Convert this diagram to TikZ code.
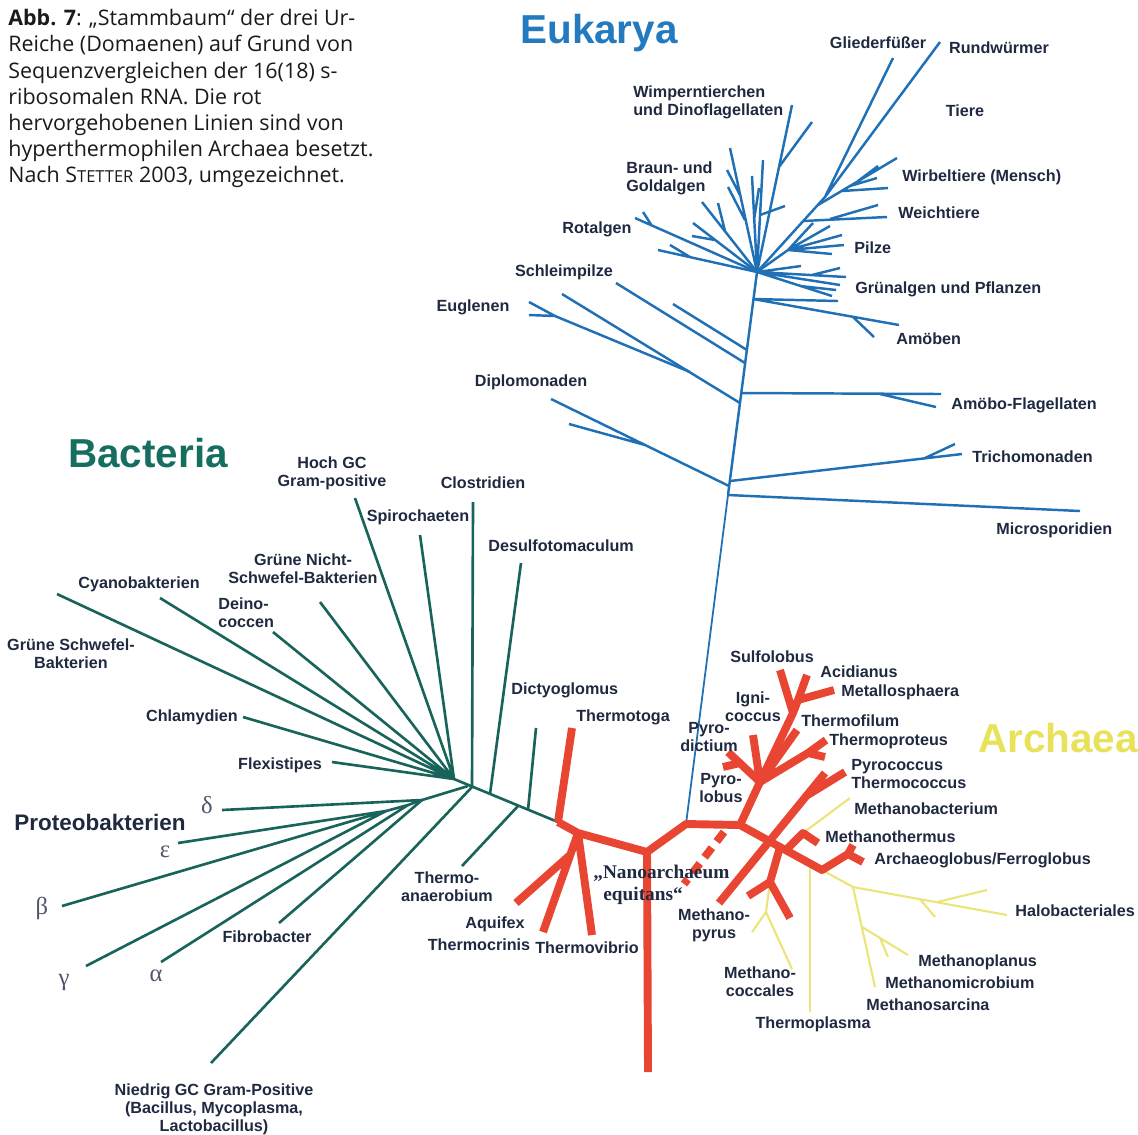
\documentclass[tikz,border=0pt]{standalone}
\usepackage{fontspec}
\setmainfont{Liberation Sans}
\newfontfamily\capfont{Open Sans}
\newfontfamily\serifgreek{Liberation Serif}
\usepackage{tikz}

\definecolor{eukblue}{HTML}{1F70B4}
\definecolor{euktitle}{HTML}{237ABE}
\definecolor{bacgreen}{HTML}{19645A}
\definecolor{bactitle}{HTML}{166E60}
\definecolor{hotred}{HTML}{E84632}
\definecolor{arcyellow}{HTML}{EBE478}
\definecolor{arctitle}{HTML}{E8E25A}
\definecolor{labelnavy}{HTML}{1F2940}
\definecolor{greekgray}{HTML}{505569}
\definecolor{captext}{HTML}{1A1A1A}

\newcommand{\taxfont}{\bfseries\fontsize{9.2}{10.3}\selectfont}
\newcommand{\domfont}{\bfseries\fontsize{23}{23}\selectfont}

\begin{document}
\begin{tikzpicture}[
    x=0.02cm, y=-0.02cm,
    line join=round,
    euk/.style={draw=eukblue, line width=1.4pt},
    eukthin/.style={draw=eukblue, line width=1pt},
    bac/.style={draw=bacgreen, line width=1.5pt},
    hot/.style={draw=hotred, line width=4.5pt},
    hotdash/.style={draw=hotred, line width=4.5pt, dash pattern=on 6.8pt off 4.5pt},
    arc/.style={draw=arcyellow, line width=1.2pt},
    taxon/.style={
        font=\taxfont,
        text=labelnavy,
        inner sep=0pt,
        align=center
    },
    domtitle/.style={
        font=\domfont,
        inner sep=0pt,
        anchor=base west
    },
    greek/.style={
        font=\serifgreek\fontsize{14}{14}\selectfont,
        text=greekgray,
        inner sep=0pt
    },
    nanolabel/.style={
        font=\serifgreek\bfseries\fontsize{11}{12.5}\selectfont,
        text=labelnavy,
        inner sep=0pt,
        align=left,
        anchor=west
    }
  ]

\useasboundingbox (0,0) rectangle (1138,1134);

% // Caption
\node [anchor=north west, inner sep=0pt, align=left, text=captext,
       font=\capfont\fontsize{12.2}{14.9}\selectfont] (caption) at (8,9)
 {%
  \textbf{Abb. 7}: „Stammbaum“ der drei Ur-\\
  Reiche (Domaenen) auf Grund von\\
  Sequenzvergleichen der 16(18) s-\\
  ribosomalen RNA. Die rot\\
  hervorgehobenen Linien sind von\\
  hyperthermophilen Archaea besetzt.\\
  Nach S{\fontsize{9.4}{14.9}\selectfont TETTER} 2003, umgezeichnet.
 };

% // Eukarya: trunk
\coordinate (ehub) at (757,272);
\coordinate (ebase) at (686,824);
\coordinate (et1) at (753,299);
\coordinate (et2) at (747,350);
\coordinate (et3) at (745,363);
\coordinate (et4) at (741,393);
\coordinate (et5) at (740,403);
\coordinate (et6) at (730,481);
\coordinate (et7) at (729,486);
\coordinate (et8) at (728,495);

 \draw [eukthin] (ebase) -- (et8);
 \draw [euk] (et8) -- (ehub);

% // Eukarya: animals
\coordinate (tj) at (825,197);
\coordinate (glieder) at (893,58);
\coordinate (rundw) at (940,42);
\coordinate (wirb0) at (818,205);
\coordinate (wirb1) at (897,158);
\coordinate (wb1) at (842,191);
\coordinate (wirb2) at (888,188);
\coordinate (wb2) at (850,186);
\coordinate (wirb3) at (877,178);
\coordinate (wb3) at (858,181);
\coordinate (wirb4) at (878,166);
\coordinate (weich0) at (803,221);
\coordinate (weich1) at (887,217);
\coordinate (wc) at (830,219);
\coordinate (weich2) at (878,205);

 \draw [euk] (ehub) -- (tj) -- (glieder) (tj) -- (rundw);
 \draw [euk] (wirb0) -- (wirb1) (wb1) -- (wirb2) (wb2) -- (wirb3) (wb3) -- (wirb4);
 \draw [euk] (weich0) -- (weich1) (wc) -- (weich2);

% // Eukarya: fungi, plants, amoebae
\coordinate (pilz0) at (788,250);
\coordinate (gr1) at (801,266);
\coordinate (gr2) at (846,277);
\coordinate (grb) at (812,275);
\coordinate (gr2b) at (840,268);
\coordinate (gr3) at (840,285);
\coordinate (gr4) at (832,296);
\coordinate (grc) at (800,286);
\coordinate (gr4b) at (836,290);
\coordinate (amo1) at (838,301);
\coordinate (amo2) at (899,325);
\coordinate (amob) at (853,317);
\coordinate (amo3) at (874,337);

 \draw [euk] (ehub) -- (pilz0) -- (813,223) (pilz0) -- (830,226) (pilz0) -- (842,235)
   (pilz0) -- (844,245) (pilz0) -- (832,254);
 \draw [euk] (ehub) -- (gr1) (ehub) -- (gr2) (grb) -- (gr2b) (ehub) -- (gr3)
   (ehub) -- (gr4) (grc) -- (gr4b);
 \draw [euk] (et1) -- (amo1) (et1) -- (amo2) (amob) -- (amo3);

% // Eukarya: protists
\coordinate (wimp1) at (792,105);
\coordinate (wimpb) at (779,167);
\coordinate (wimp2) at (812,122);
\coordinate (braun1) at (730,148);
\coordinate (brb1) at (740,195);
\coordinate (braun2) at (727,170);
\coordinate (brb2) at (745,220);
\coordinate (braun3) at (728,187);
\coordinate (braun4) at (763,160);
\coordinate (brb3) at (760,215);
\coordinate (braun5) at (785,206);
\coordinate (braun6) at (752,176);
\coordinate (brb4) at (754,220);
\coordinate (braun7) at (759,188);
\coordinate (ll1) at (702,202);
\coordinate (llb1) at (725,231);
\coordinate (ll1b) at (718,203);
\coordinate (ll2) at (693,223);
\coordinate (llb2) at (715,240);
\coordinate (ll2b) at (692,236);
\coordinate (rot) at (635,218);
\coordinate (rotb) at (652,226);
\coordinate (rot2) at (643,212);
\coordinate (ll3) at (658,250);
\coordinate (llb3) at (690,257);
\coordinate (ll3b) at (670,245);

 \draw [euk] (ehub) -- (wimp1) (wimpb) -- (wimp2);
 \draw [euk] (ehub) -- (braun1) (brb1) -- (braun2) (brb2) -- (braun3);
 \draw [euk] (ehub) -- (braun4) (brb3) -- (braun5);
 \draw [euk] (ehub) -- (braun6) (brb4) -- (braun7);
 \draw [euk] (ehub) -- (ll1) (llb1) -- (ll1b);
 \draw [euk] (ehub) -- (ll2) (llb2) -- (ll2b);
 \draw [euk] (ehub) -- (rot) (rotb) -- (rot2);
 \draw [euk] (ehub) -- (ll3) (llb3) -- (ll3b);

\coordinate (schleim1) at (616,283);
\coordinate (schleim2) at (673,304);
\coordinate (eugc) at (562,294);
\coordinate (eugj) at (555,316);
\coordinate (eug1) at (529,302);
\coordinate (eug2) at (529,315);
\coordinate (eugm) at (690,372);
\coordinate (diplo1) at (551,399);
\coordinate (diplob) at (645,445);
\coordinate (diplo2) at (569,424);

 \draw [euk] (schleim1) -- (et3) (schleim2) -- (et2) (eugc) -- (et5);
 \draw [euk] (eug1) -- (eugj) (eug2) -- (eugj) -- (eugm);
 \draw [euk] (et7) -- (diplo1) (diplob) -- (diplo2);

\coordinate (amof1) at (941,394);
\coordinate (amofb) at (880,394);
\coordinate (amof2) at (936,407);
\coordinate (tricho1) at (962,454);
\coordinate (trichob) at (925,458);
\coordinate (tricho2) at (955,444);
\coordinate (micro) at (1080,511);

 \draw [euk] (et4) -- (amof1) (amofb) -- (amof2);
 \draw [euk] (et6) -- (tricho1) (trichob) -- (tricho2);
 \draw [euk] (et8) -- (micro);

% // Bacteria
\coordinate (bhub) at (454,779);
\coordinate (bs1) at (472,787);
\coordinate (bs2) at (490,794);
\coordinate (bs3) at (518,806);
\coordinate (bs4) at (528,810);
\coordinate (rs) at (558,822);
\coordinate (gsb) at (57,594);
\coordinate (cyano) at (160,598);
\coordinate (deino) at (273,632);
\coordinate (gns) at (320,602);
\coordinate (hochgc) at (355,498);
\coordinate (spiro) at (420,535);
\coordinate (clostr) at (473,502);
\coordinate (desulfo) at (521,563);
\coordinate (dictyo) at (536,728);
\coordinate (chlamy) at (243,717);
\coordinate (flexi) at (332,762);

 \draw [bac] (bhub) -- (rs);
 \draw [bac] (bhub) -- (gsb) (bhub) -- (cyano) (bhub) -- (deino) (bhub) -- (gns)
   (bhub) -- (hochgc) (bhub) -- (spiro) (bhub) -- (chlamy) (bhub) -- (flexi);
 \draw [bac] (bs1) -- (clostr) (bs2) -- (desulfo) (bs4) -- (dictyo);

\coordinate (pj0) at (468,786);
\coordinate (pj1) at (422,800);
\coordinate (pj2) at (408,805);
\coordinate (pj3) at (386,811);
\coordinate (pdelta) at (222,810);
\coordinate (peps) at (178,843);
\coordinate (pbeta) at (62,906);
\coordinate (pgamma) at (86,966);
\coordinate (palpha) at (161,962);
\coordinate (pfibro) at (279,923);
\coordinate (niedrig) at (211,1063);
\coordinate (thanaer) at (462,866);

 \draw [bac] (pj0) -- (pj1) -- (pdelta) (pj1) -- (pj2) -- (pj3) -- (peps);
 \draw [bac] (pj3) -- (pbeta) (pj3) -- (pgamma) (pj2) -- (palpha) (pj1) -- (pfibro);
 \draw [bac] (bs1) -- (niedrig) (bs3) -- (thanaer);

% // Archaea: coordinates
\coordinate (ra) at (578,833);
\coordinate (rn) at (647,852);
\coordinate (rt) at (740,825);
\coordinate (thermotoga) at (572,728);
\coordinate (aqa) at (570,855);
\coordinate (aquifex1) at (516,903);
\coordinate (aquifex2) at (543,932);
\coordinate (thvibrio) at (592,935);
\coordinate (nanoend) at (648,1072);
\coordinate (nanoA) at (724,832);
\coordinate (nanoB) at (684,884);
\coordinate (c1) at (760,782);
\coordinate (c2) at (793,713);
\coordinate (c3) at (798,700);
\coordinate (sulfo) at (780,670);
\coordinate (acid) at (807,675);
\coordinate (metallo) at (834,690);
\coordinate (igni) at (753,735);
\coordinate (pyrod1) at (728,752);
\coordinate (pyrodj) at (740,763);
\coordinate (pyrod2) at (723,767);
\coordinate (thfil) at (797,730);
\coordinate (tpj) at (808,753);
\coordinate (thprot1) at (826,740);
\coordinate (thprot2) at (825,757);
\coordinate (e0) at (780,847);
\coordinate (e1) at (822,870);
\coordinate (mpyrus) at (719,903);
\coordinate (pyroc1) at (825,773);
\coordinate (pyrocj) at (806,796);
\coordinate (pyroc2) at (845,772);
\coordinate (mcj) at (770,882);
\coordinate (mc1) at (748,896);
\coordinate (mc2) at (790,918);
\coordinate (mtj0) at (786,850);
\coordinate (mtj) at (803,833);
\coordinate (mtherm) at (818,843);
\coordinate (agj) at (848,854);
\coordinate (ag1) at (853,845);
\coordinate (ag2) at (863,862);
\coordinate (mbact) at (850,798);
\coordinate (mcy) at (766,912);
\coordinate (mcy1) at (752,932);
\coordinate (mcy2) at (792,969);
\coordinate (tplas0) at (810,864);
\coordinate (tplas) at (810,1012);
\coordinate (h1) at (853,887);
\coordinate (halo) at (1007,915);
\coordinate (haloj1) at (937,902);
\coordinate (halo1) at (987,890);
\coordinate (haloj2) at (920,899);
\coordinate (halo2) at (935,917);
\coordinate (msarc) at (875,987);
\coordinate (msj) at (862,927);
\coordinate (mplan) at (908,955);
\coordinate (msj2) at (880,938);
\coordinate (mmicro) at (888,957);

% yellow (not hyperthermophilic)
 \draw [arc] (mtj) -- (mbact);
 \draw [arc] (mcj) -- (mcy) -- (mcy1) (mcy) -- (mcy2);
 \draw [arc] (tplas0) -- (tplas);
 \draw [arc] (e1) -- (h1) -- (halo) (haloj1) -- (halo1) (haloj2) -- (halo2);
 \draw [arc] (h1) -- (msarc) (msj) -- (mplan) (msj2) -- (mmicro);

% red (hyperthermophilic)
 \draw [hot] (rs) -- (ra) -- (rn) -- (ebase) -- (rt) -- (e0) -- (e1) -- (agj) -- (ag1)
   (agj) -- (ag2);
 \draw [hot] (rs) -- (thermotoga);
 \draw [hot] (ra) -- (aquifex2) (aqa) -- (aquifex1) (ra) -- (thvibrio);
 \draw [hot] (rn) -- (nanoend);
 \draw [hotdash] (nanoA) -- (nanoB);
 \draw [hot] (rt) -- (c1) -- (c2) -- (sulfo) (c2) -- (c3) -- (acid) (c3) -- (metallo);
 \draw [hot] (c1) -- (igni) (c1) -- (pyrod1) (pyrodj) -- (pyrod2) (c1) -- (thfil)
   (c1) -- (tpj) -- (thprot1) (tpj) -- (thprot2);
 \draw [hot] (mpyrus) -- (pyroc1) (pyrocj) -- (pyroc2);
 \draw [hot] (e0) -- (mcj) -- (mc1) (mcj) -- (mc2);
 \draw [hot] (mtj0) -- (mtj) -- (mtherm);

% // Domain titles
\node [domtitle, text=euktitle] (teukarya) at (520,43) {Eukarya};
\node [domtitle, text=bactitle] (tbacteria) at (68,467) {Bacteria};
\node [domtitle, text=arctitle] (tarchaea) at (978,752) {Archaea};

% // Eukarya labels
\node [taxon] (lglieder) at (878,43) {Gliederfüßer};
\node [taxon] (lrund) at (999,48) {Rundwürmer};
\node [taxon] (ltiere) at (965,111) {Tiere};
\node [taxon, anchor=west, align=left] (lwimper) at (633,102) {Wimperntierchen\\und Dinoflagellaten};
\node [taxon, anchor=west, align=left] (lbraun) at (626,178) {Braun- und\\Goldalgen};
\node [taxon] (lrot) at (597,229) {Rotalgen};
\node [taxon, anchor=west] (lwirb) at (902,177) {Wirbeltiere (Mensch)};
\node [taxon, anchor=west] (lweich) at (898,213) {Weichtiere};
\node [taxon, anchor=west] (lpilze) at (854,248) {Pilze};
\node [taxon, anchor=west] (lgruen) at (855,289) {Grünalgen und Pflanzen};
\node [taxon] (lschleim) at (564,272) {Schleimpilze};
\node [taxon] (leugl) at (473,307) {Euglenen};
\node [taxon, anchor=west] (lamoeb) at (896,339) {Amöben};
\node [taxon] (ldiplo) at (531,382) {Diplomonaden};
\node [taxon, anchor=west] (lamoflag) at (951,405) {Amöbo-Flagellaten};
\node [taxon, anchor=west] (ltricho) at (972,457) {Trichomonaden};
\node [taxon, anchor=west] (lmicro) at (996,530) {Microsporidien};

% // Bacteria labels
\node [taxon] (lhochgc) at (332,473) {Hoch GC\\Gram-positive};
\node [taxon] (lclostr) at (483,483) {Clostridien};
\node [taxon] (lspiro) at (418,517) {Spirochaeten};
\node [taxon, anchor=west] (ldesulfo) at (488,546) {Desulfotomaculum};
\node [taxon] (lgns) at (303,569) {Grüne Nicht-\\Schwefel-Bakterien};
\node [taxon] (lcyano) at (139,584) {Cyanobakterien};
\node [taxon, anchor=west, align=left] (ldeino) at (218,613) {Deino-\\coccen};
\node [taxon] (lgsb) at (71,654) {Grüne Schwefel-\\Bakterien};
\node [taxon] (lchlamy) at (192,717) {Chlamydien};
\node [taxon] (lflexi) at (280,765) {Flexistipes};
\node [taxon, anchor=west] (ldictyo) at (511,690) {Dictyoglomus};
\node [taxon, anchor=west] (lthermotoga) at (576,717) {Thermotoga};
\node [taxon, font=\bfseries\fontsize{12.8}{14}\selectfont] (lproteo) at (100,822) {Proteobakterien};
\node [greek] (ldelta) at (207,805) {δ};
\node [greek] (leps) at (165,852) {ε};
\node [greek] (lbeta) at (42,908) {β};
\node [greek] (lgamma) at (64,982) {γ};
\node [greek] (lalpha) at (156,976) {α};
\node [taxon] (lfibro) at (267,937) {Fibrobacter};
\node [taxon] (lthanaer) at (447,887) {Thermo-\\anaerobium};
\node [taxon] (laquifex) at (495,924) {Aquifex};
\node [taxon] (lthcrinis) at (479,945) {Thermocrinis};
\node [taxon] (lthvibrio) at (587,948) {Thermovibrio};
\node [taxon] (lniedrig) at (214,1109) {Niedrig GC Gram-Positive\\(Bacillus, Mycoplasma,\\Lactobacillus)};

% // Archaea labels
\node [taxon] (lsulfo) at (772,657) {Sulfolobus};
\node [taxon, anchor=west] (lacid) at (820,672) {Acidianus};
\node [taxon, anchor=west] (lmetallo) at (841,692) {Metallosphaera};
\node [taxon] (ligni) at (753,707) {Igni-\\coccus};
\node [taxon] (lpyrod) at (709,737) {Pyro-\\dictium};
\node [taxon, anchor=west] (lthfil) at (801,721) {Thermofilum};
\node [taxon, anchor=west] (lthprot) at (829,741) {Thermoproteus};
\node [taxon] (lpyrol) at (721,788) {Pyro-\\lobus};
\node [taxon, anchor=west, align=left] (lpyroc) at (851,774) {Pyrococcus\\Thermococcus};
\node [taxon, anchor=west] (lmbact) at (854,809) {Methanobacterium};
\node [taxon, anchor=west] (lmtherm) at (825,837) {Methanothermus};
\node [taxon, anchor=west] (larchaeo) at (874,860) {Archaeoglobus/Ferroglobus};
\node [nanolabel] (lnano) at (593,885) {„Nanoarchaeum\\\hspace{0.2cm}equitans“};
\node [taxon, anchor=west] (lhalo) at (1015,911) {Halobacteriales};
\node [taxon] (lmpyrus) at (714,925) {Methano-\\pyrus};
\node [taxon] (lmcocc) at (760,982) {Methano-\\coccales};
\node [taxon] (ltplas) at (813,1024) {Thermoplasma};
\node [taxon, anchor=west] (lmplan) at (918,962) {Methanoplanus};
\node [taxon, anchor=west] (lmmicro) at (885,983) {Methanomicrobium};
\node [taxon, anchor=west] (lmsarc) at (866,1005) {Methanosarcina};

\end{tikzpicture}
\end{document}
